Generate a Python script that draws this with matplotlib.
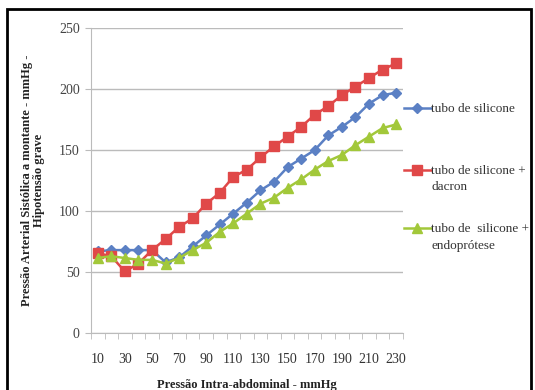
import numpy as np
import matplotlib
matplotlib.use("Agg")
import matplotlib.pyplot as plt
from matplotlib.lines import Line2D
from matplotlib.patches import Rectangle

# Pressao intra-abdominal (mmHg)
pia = list(range(10, 240, 10))

# Pressao arterial sistolica a montante (mmHg)
silicone = [67, 68, 68, 68, 68, 58, 62, 71, 80, 89, 98, 107, 117, 124, 136,
            143, 150, 162, 169, 177, 188, 195, 197]
dacron = [65.5, 63, 50.5, 57, 68, 77, 87, 94, 106, 115, 128, 134, 144, 153, 161,
          169, 179, 186, 195, 202, 209, 216, 221]
endoprotese = [61.5, 63, 61.5, 60, 60, 57, 61.5, 68, 74, 83, 90, 98, 106, 111, 119,
               126, 134, 141, 146, 154, 161, 168, 171]

labels = ['tubo de silicone', 'tubo de silicone +\ndacron', 'tubo de  silicone +\nendoprótese']
colors = ['#5B80C4', '#E04848', '#A2C83A']
markers = ['D', 's', '^']
msizes = [5, 7, 6.5]

plt.rcParams['font.family'] = ['Liberation Serif', 'DejaVu Serif']

fig = plt.figure(figsize=(5.35, 3.9), dpi=100)
ax = fig.add_axes([0.170, 0.146, 0.583, 0.782])

x = np.arange(len(pia))
series = [silicone, dacron, endoprotese]
for vals, c, m, ms in zip(series, colors, markers, msizes):
    ax.plot(x, vals, color=c, marker=m, markersize=ms, linewidth=1.8,
            markeredgecolor=c)

ax.set_xlim(-0.5, len(pia) - 0.5)
ax.set_ylim(0, 250)
ax.set_yticks([0, 50, 100, 150, 200, 250])
ax.yaxis.grid(True, color='#BBBBBB', linewidth=1)
ax.set_axisbelow(True)

ax.set_xticks(x[::2])
ax.set_xticklabels([str(v) for v in pia[::2]])
ax.set_xticks(np.arange(-0.5, len(pia), 1), minor=True)
ax.tick_params(axis='x', which='major', length=0, pad=14, labelsize=10, colors='#333333')
ax.tick_params(axis='x', which='minor', length=4, color='#BBBBBB', direction='out')
ax.tick_params(axis='y', length=4, color='#BBBBBB', labelsize=10, colors='#444444', pad=4)

for s in ['top', 'right']:
    ax.spines[s].set_visible(False)
for s in ['left', 'bottom']:
    ax.spines[s].set_color('#BBBBBB')

ax.set_xlabel('Pressão Intra-abdominal - mmHg', fontsize=9, fontweight='bold',
              color='#222222', labelpad=10)
ax.set_ylabel('Pressão Arterial Sistólica a montante - mmHg -\nHipotensão grave',
              fontsize=9, fontweight='bold', color='#222222', labelpad=10,
              linespacing=1.05)

# legend drawn to the right, handle aligned with first line of each label
leg_y = [0.723, 0.564, 0.415]
for lab, c, m, ms, yy in zip(labels, colors, markers, msizes, leg_y):
    fig.add_artist(Line2D([0.755, 0.805], [yy, yy], transform=fig.transFigure,
                          color=c, linewidth=1.8))
    fig.add_artist(Line2D([0.78], [yy], transform=fig.transFigure, color=c,
                          marker=m, markersize=ms, markeredgecolor=c))
    fig.text(0.806, yy + 0.012, lab, fontsize=9.5, color='#333333',
             va='top', ha='left', linespacing=1.45)

# outer frame
fig.add_artist(Rectangle((0.014, -0.05), 0.979, 1.026, transform=fig.transFigure,
                         fill=False, edgecolor='black', linewidth=2))

fig.savefig('out.png', dpi=100)
